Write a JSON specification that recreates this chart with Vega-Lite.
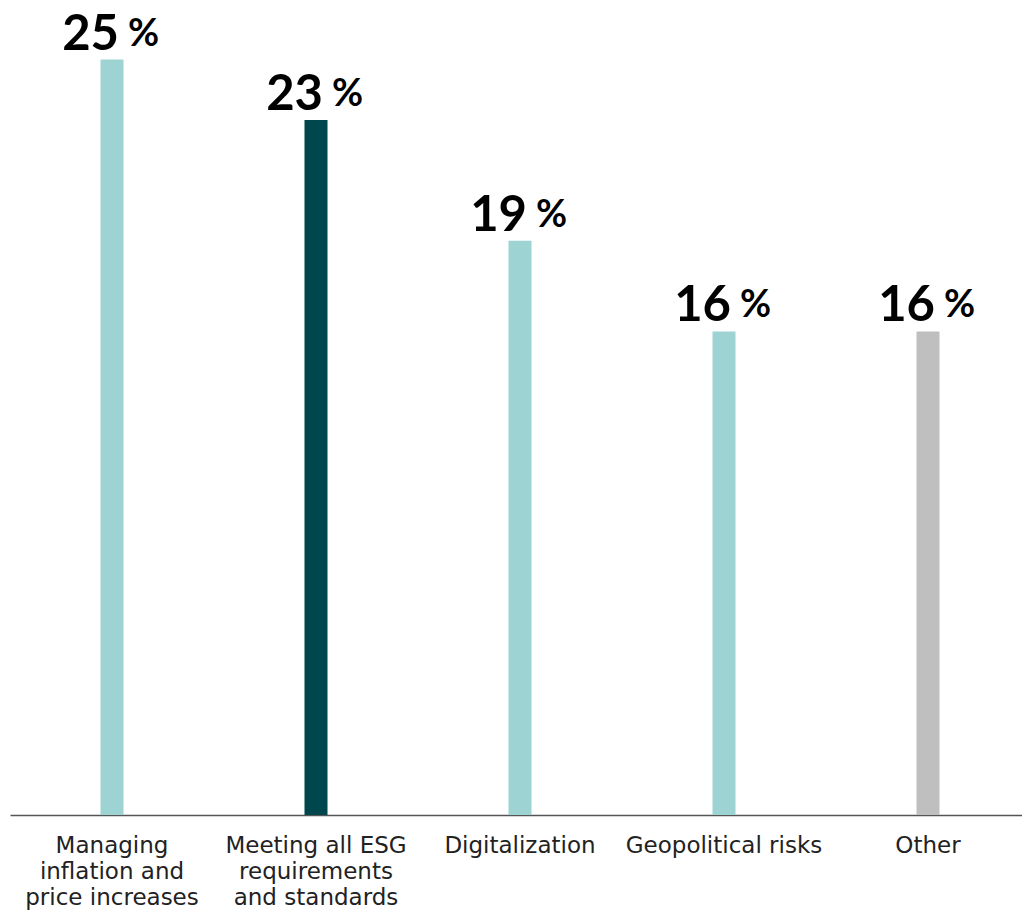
{
  "$schema": "https://vega.github.io/schema/vega-lite/v6.json",
  "autosize": {"type": "none"},
  "padding": {"left": 10, "top": 0, "right": 0, "bottom": 96},
  "width": 1012,
  "height": 815,
  "background": "white",
  "config": {"view": {"stroke": null}},
  "data": {
    "values": [
      {"category": "Managing|inflation and|price increases", "value": 25, "group": "a"},
      {"category": "Meeting all ESG|requirements|and standards", "value": 23, "group": "b"},
      {"category": "Digitalization", "value": 19, "group": "a"},
      {"category": "Geopolitical risks", "value": 16, "group": "a"},
      {"category": "Other", "value": 16, "group": "c"}
    ]
  },
  "encoding": {
    "x": {
      "field": "category",
      "type": "nominal",
      "sort": null,
      "scale": {"range": [0, 1020], "paddingInner": 0, "paddingOuter": 0},
      "axis": {
        "title": null,
        "labelAngle": 0,
        "ticks": false,
        "domainColor": "#555555",
        "domainWidth": 1.5,
        "labelExpr": "split(datum.value, '|')",
        "labelFont": "DejaVu Sans",
        "labelFontSize": 23,
        "labelColor": "#222222",
        "labelLineHeight": 26,
        "labelBaseline": "top",
        "labelPadding": 19,
        "labelLimit": 300
      }
    },
    "y": {
      "field": "value",
      "type": "quantitative",
      "scale": {"domain": [0, 26.97], "nice": false},
      "axis": null
    }
  },
  "layer": [
    {
      "mark": {"type": "bar", "size": 23},
      "encoding": {
        "color": {
          "field": "group",
          "type": "nominal",
          "scale": {"domain": ["a", "b", "c"], "range": ["#9DD4D3", "#00474D", "#BFBFBF"]},
          "legend": null
        }
      }
    },
    {
      "mark": {"type": "text", "align": "right", "baseline": "alphabetic", "dx": 7, "dy": -10, "font": "Lato", "fontSize": 49, "fontWeight": "bold", "color": "#000000"},
      "encoding": {"text": {"field": "value", "type": "quantitative"}}
    },
    {
      "mark": {"type": "text", "align": "left", "baseline": "alphabetic", "dx": 16, "dy": -14, "font": "Lato", "fontSize": 38, "fontWeight": "bold", "color": "#000000", "text": "%"}
    }
  ]
}
